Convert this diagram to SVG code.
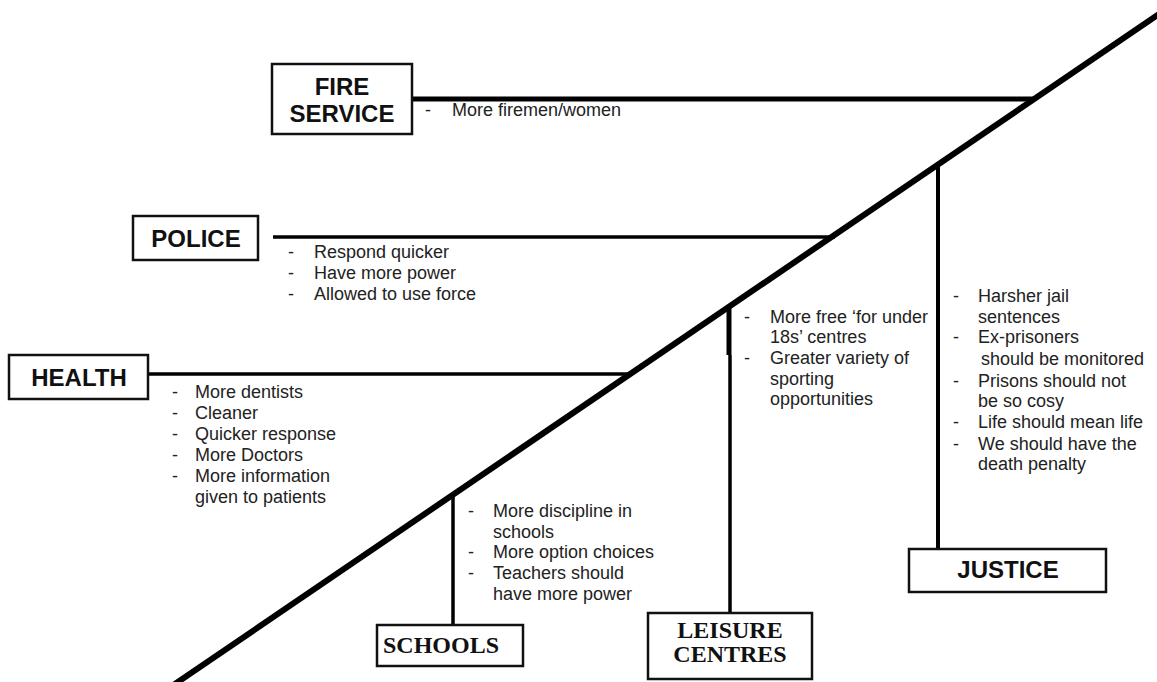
<svg xmlns="http://www.w3.org/2000/svg" width="1157" height="682" viewBox="0 0 1157 682">
<style>
.box{fill:#fff;stroke:#111;stroke-width:2.5}
.ln{stroke:#000;fill:none;stroke-linecap:butt}
.h{font-family:"Liberation Sans",Arial,sans-serif;font-weight:bold;font-size:24px;fill:#111;text-anchor:middle}
.s{font-family:"Liberation Serif","Times New Roman",serif;font-weight:bold;font-size:24px;fill:#111;text-anchor:middle}
.t{font-family:"Liberation Sans",Arial,sans-serif;font-size:18px;fill:#222}
</style>
<rect width="1157" height="682" fill="#fff"/>
<g id="connectors">
<line class="ln" x1="172" y1="686" x2="1162" y2="12" stroke-width="6"/>
<line class="ln" x1="413" y1="99" x2="1035" y2="99" stroke-width="5"/>
<line class="ln" x1="273" y1="237" x2="835" y2="237" stroke-width="3.5"/>
<line class="ln" x1="148" y1="374" x2="632" y2="374" stroke-width="3.5"/>
<line class="ln" x1="453" y1="495" x2="453" y2="625" stroke-width="3.5"/>
<line class="ln" x1="729" y1="306" x2="729" y2="355" stroke-width="5"/>
<line class="ln" x1="730" y1="355" x2="730" y2="613" stroke-width="3.5"/>
<line class="ln" x1="938" y1="164" x2="938" y2="549" stroke-width="4"/>
</g>
<g id="fire-service">
<rect class="box" x="272" y="64" width="140" height="70"/>
<text class="h" x="342" y="95">FIRE</text>
<text class="h" x="342" y="122">SERVICE</text>
<text class="t" x="425" y="116">-</text>
<text class="t" x="452" y="116">More firemen/women</text>
</g>
<g id="police">
<rect class="box" x="133" y="216" width="125" height="44"/>
<text class="h" x="196" y="247">POLICE</text>
<text class="t" x="288" y="258">-</text><text class="t" x="314" y="258">Respond quicker</text>
<text class="t" x="288" y="279">-</text><text class="t" x="314" y="279">Have more power</text>
<text class="t" x="288" y="300">-</text><text class="t" x="314" y="300">Allowed to use force</text>
</g>
<g id="health">
<rect class="box" x="9" y="355" width="139" height="44"/>
<text class="h" x="79" y="386">HEALTH</text>
<text class="t" x="172" y="398">-</text><text class="t" x="195" y="398">More dentists</text>
<text class="t" x="172" y="419">-</text><text class="t" x="195" y="419">Cleaner</text>
<text class="t" x="172" y="440">-</text><text class="t" x="195" y="440">Quicker response</text>
<text class="t" x="172" y="461">-</text><text class="t" x="195" y="461">More Doctors</text>
<text class="t" x="172" y="482">-</text><text class="t" x="195" y="482">More information</text>
<text class="t" x="195" y="503">given to patients</text>
</g>
<g id="schools">
<rect class="box" x="377" y="625" width="146" height="41"/>
<text class="s" x="441" y="653">SCHOOLS</text>
<text class="t" x="468" y="517">-</text><text class="t" x="493" y="517">More discipline in</text>
<text class="t" x="493" y="538">schools</text>
<text class="t" x="468" y="558">-</text><text class="t" x="493" y="558">More option choices</text>
<text class="t" x="468" y="579">-</text><text class="t" x="493" y="579">Teachers should</text>
<text class="t" x="493" y="600">have more power</text>
</g>
<g id="leisure-centres">
<rect class="box" x="648" y="613" width="164" height="66"/>
<text class="s" x="730" y="638">LEISURE</text>
<text class="s" x="730" y="662">CENTRES</text>
<text class="t" x="744" y="323">-</text><text class="t" x="770" y="323">More free ‘for under</text>
<text class="t" x="770" y="343">18s’ centres</text>
<text class="t" x="744" y="364">-</text><text class="t" x="770" y="364">Greater variety of</text>
<text class="t" x="770" y="385">sporting</text>
<text class="t" x="770" y="405">opportunities</text>
</g>
<g id="justice">
<rect class="box" x="909" y="549" width="197" height="43"/>
<text class="h" x="1008" y="578">JUSTICE</text>
<text class="t" x="953" y="302">-</text><text class="t" x="978" y="302">Harsher jail</text>
<text class="t" x="978" y="323">sentences</text>
<text class="t" x="953" y="343">-</text><text class="t" x="978" y="343">Ex-prisoners</text>
<text class="t" x="981" y="365">should be monitored</text>
<text class="t" x="953" y="387">-</text><text class="t" x="978" y="387">Prisons should not</text>
<text class="t" x="978" y="407">be so cosy</text>
<text class="t" x="953" y="428">-</text><text class="t" x="978" y="428">Life should mean life</text>
<text class="t" x="953" y="450">-</text><text class="t" x="978" y="450">We should have the</text>
<text class="t" x="978" y="470">death penalty</text>
</g>
</svg>
